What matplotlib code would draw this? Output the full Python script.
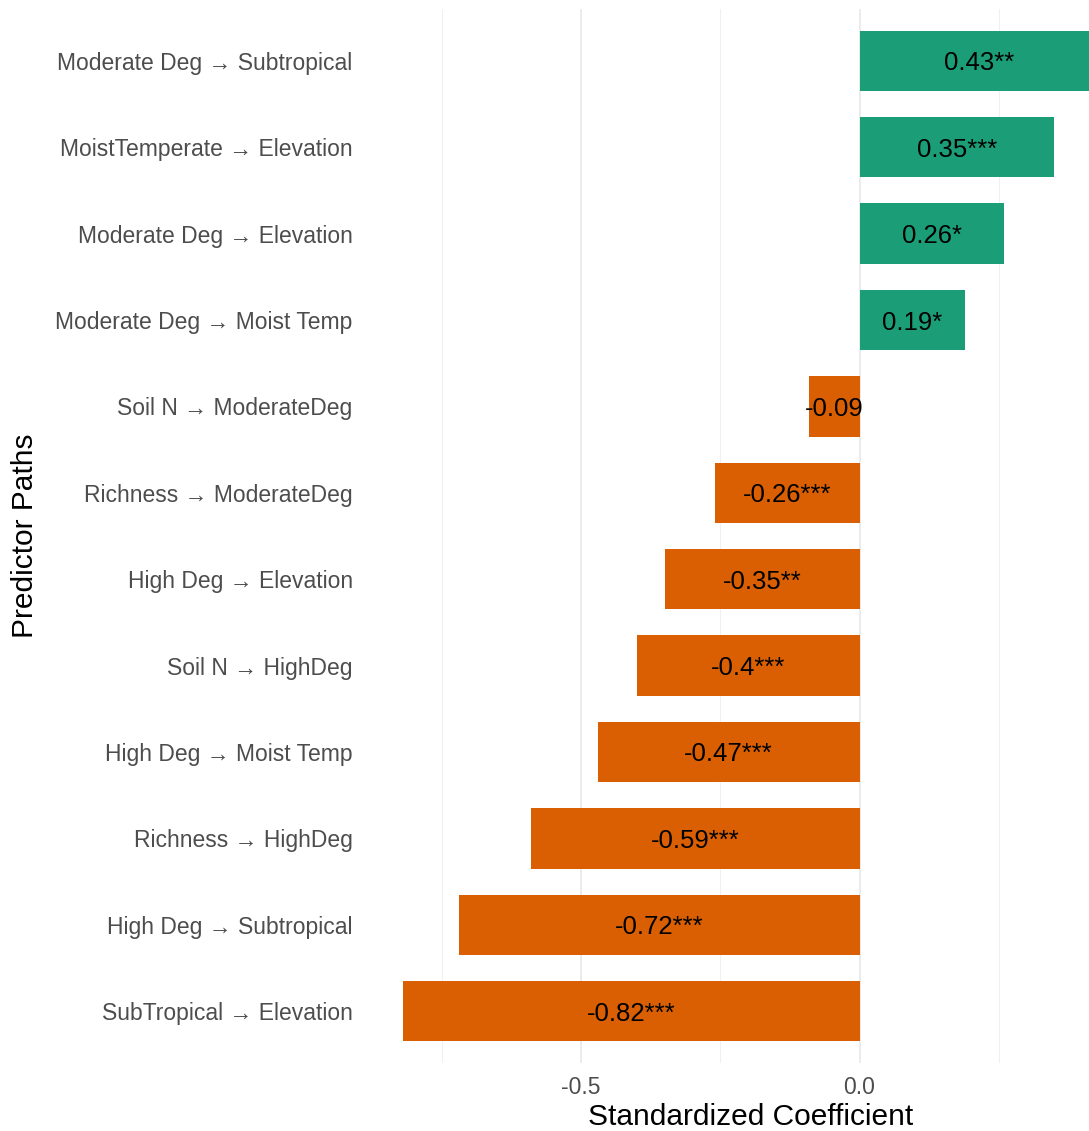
import matplotlib
matplotlib.use("Agg")
from matplotlib import pyplot as plt

plt.rcParams["font.family"] = ["Liberation Sans", "DejaVu Sans"]

# datos (de abajo hacia arriba)
paths = ["SubTropical → Elevation", "High Deg → Subtropical", "Richness → HighDeg",
         "High Deg → Moist Temp", "Soil N → HighDeg", "High Deg → Elevation",
         "Richness → ModerateDeg", "Soil N → ModerateDeg", "Moderate Deg → Moist Temp",
         "Moderate Deg → Elevation", "MoistTemperate → Elevation", "Moderate Deg → Subtropical"]
coefs = [-0.82, -0.72, -0.59, -0.47, -0.40, -0.35, -0.26, -0.09, 0.19, 0.26, 0.35, 0.43]
labels = ["-0.82***", "-0.72***", "-0.59***", "-0.47***", "-0.4***", "-0.35**",
          "-0.26***", "-0.09", "0.19*", "0.26*", "0.35***", "0.43**"]

verde = "#1B9E77"
naranja = "#D95F02"

fig = plt.figure(figsize=(10.89, 11.31), dpi=100)
ax = fig.add_axes([368 / 1089, 1 - 1063 / 1131, 1 - 368 / 1089, (1063 - 9) / 1131])

pos = list(range(1, len(paths) + 1))
colores = [verde if c > 0 else naranja for c in coefs]
ax.barh(pos, coefs, height=0.7, color=colores, zorder=2)

# etiqueta en el centro de cada barra
for p, c, lab in zip(pos, coefs, labels):
    ax.text(c / 2, p, lab, ha="center", va="center_baseline", fontsize=18.5, color="black", zorder=3)

ax.set_xlim(-0.8825, 0.412)
ax.set_ylim(0.4, 12.6)
ax.set_yticks(pos)
ax.set_yticklabels(paths, fontsize=16.5, color="#4D4D4D")
ax.set_xticks([-0.5, 0.0])
ax.set_xticklabels(["-0.5", "0.0"], fontsize=16.5, color="#4D4D4D")
ax.set_xticks([-0.75, -0.25, 0.25], minor=True)
ax.tick_params(axis="both", which="both", length=0)
ax.tick_params(axis="y", pad=11)
ax.tick_params(axis="x", pad=9)

ax.grid(axis="x", which="major", color="#E8E8E8", linewidth=1.2, zorder=0)
ax.grid(axis="x", which="minor", color="#F0F0F0", linewidth=0.8, zorder=0)
ax.grid(axis="y", visible=False)
for s in ax.spines.values():
    s.set_visible(False)

ax.set_xlabel("Standardized Coefficient", fontsize=21.5, color="black")
ax.xaxis.set_label_coords((751 - 368) / (1089 - 368), -(1117 - 1063) / 1054, transform=ax.transAxes)
ax.set_ylabel("Predictor Paths", fontsize=21.5, color="black")
ax.yaxis.set_label_coords(-(368 - 25) / (1089 - 368), 0.5, transform=ax.transAxes)
ax.xaxis.label.set_va("center")
ax.yaxis.label.set_va("center")

fig.savefig("out.png", dpi=100)
